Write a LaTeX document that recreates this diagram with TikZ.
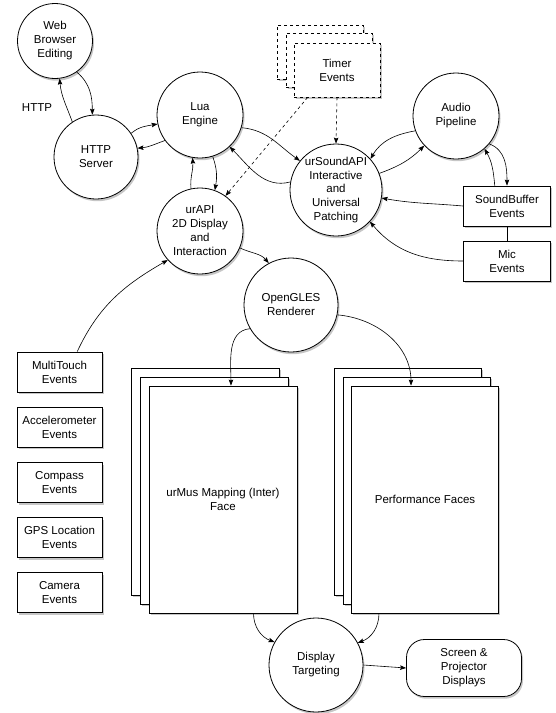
\documentclass[tikz,border=0pt]{standalone}
\usepackage{fontspec}
\setmainfont{Liberation Sans}
\usetikzlibrary{arrows.meta,positioning,calc,shadows}

\tikzset{
  box/.style={draw, fill=white, line width=0.8pt, align=center,
    font=\fontsize{11.5}{14}\selectfont,
    drop shadow={shadow xshift=1.5pt, shadow yshift=-2.2pt, opacity=0.45}},
  proc/.style={box, circle, inner sep=0pt},
  evt/.style={box, rectangle, minimum width=86pt, minimum height=40pt, inner sep=1pt},
  face/.style={box, rectangle, minimum width=148pt, minimum height=227pt, inner sep=1pt},
  conn/.style={->, line width=0.6pt},
}

\begin{document}
\begin{tikzpicture}[x=1pt, y=-1pt, >={Stealth[length=6pt, width=4.5pt, inset=1pt]}]
\useasboundingbox (0,0) rectangle (555,713);

% Processes (circles)
\node[proc, minimum size=75pt] (web) at (55,41) {Web\\Browser\\Editing};
\node[proc, minimum size=84pt] (http) at (96,157) {HTTP\\Server};
\node[proc, minimum size=86pt] (lua) at (200,115) {Lua\\Engine};
\node[proc, minimum size=86pt] (audio) at (456,116) {Audio\\Pipeline};
\node[proc, minimum size=92pt, font=\fontsize{11.5}{13.6}\selectfont] (sound) at (336,190) {urSoundAPI\\Interactive\\and\\Universal\\Patching};
\node[proc, minimum size=86pt] (urapi) at (200,231) {urAPI\\2D Display\\and\\Interaction};
\node[proc, minimum size=94pt] (gles) at (291,305) {OpenGLES\\Renderer};
\node[proc, minimum size=94pt] (disp) at (316,665) {Display\\Targeting};
\node[box, rounded corners=18pt, minimum width=115pt, minimum height=57pt] (screen) at (464,668) {Screen \&\\Projector\\Displays};

\node[font=\fontsize{11.5}{14}\selectfont] (httplbl) at (37,108) {HTTP};

% Timer stack (dashed)
\node[evt, dashed, minimum height=54pt] (timer3) at (320,52) {};
\node[evt, dashed, minimum height=54pt] (timer2) at (329,60) {};
\node[evt, dashed, minimum height=54pt] (timer) at (337,70) {Timer\\Events};

% Audio side events
\node[evt, minimum width=87pt] (sbuf) at (507,206) {SoundBuffer\\Events};
\node[evt, minimum width=87pt] (mic) at (507,261) {Mic\\Events};

% Input events (left column)
\node[evt, minimum width=85pt] (mtouch) at (59.5,372) {MultiTouch\\Events};
\node[evt, minimum width=85pt] (accel) at (59.5,427) {Accelerometer\\Events};
\node[evt, minimum width=85pt] (compass) at (59.5,482.5) {Compass\\Events};
\node[evt, minimum width=85pt] (gps) at (59.5,537.5) {GPS Location\\Events};
\node[evt, minimum width=85pt] (camera) at (59.5,592.5) {Camera\\Events};

% Face stacks
\node[face] (lf3) at (205,481.5) {};
\node[face] (lf2) at (214,490.5) {};
\node[face] (lf) at (223,499.5) {urMus Mapping (Inter)\\Face};
\node[face, minimum width=147pt] (rf3) at (407.5,481.5) {};
\node[face, minimum width=147pt] (rf2) at (416.5,490.5) {};
\node[face, minimum width=147pt] (rf) at (425,499.5) {Performance Faces};

% Web <-> HTTP
\draw[conn] (http.124) to[out=110, in=-85] (web.-83);
\draw[conn] (web.-55) to[out=-40, in=90] (http.95);
% HTTP <-> Lua
\draw[conn] (http.34) to[out=40, in=-170] (lua.-168);
\draw[conn] (lua.-144) to[out=-160, in=5] (http.12);
% Lua <-> urAPI
\draw[conn] (urapi.102) to[out=95, in=-85] (lua.-100);
\draw[conn] (lua.-73) to[out=-70, in=80] (urapi.70);
% Lua <-> urSoundAPI
\draw[conn] (lua.-17) to[out=-5, in=145] (sound.141);
\draw[conn] (sound.170) to[out=195, in=-45] (lua.-47);
% urSoundAPI <-> Audio
\draw[conn] (audio.200) to[out=190, in=60] (sound.42);
\draw[conn] (sound.21) to[out=20, in=-135] (audio.223);
% Audio <-> SoundBuffer
\draw[conn] (sbuf.121) to[out=95, in=-60] (audio.-49);
\draw[conn] (audio.-40) to[out=-20, in=90] (sbuf.north);
\draw[line width=0.6pt] (sbuf.south) -- (mic.north);
% events into urSoundAPI
\draw[conn] (sbuf.west) to[out=175, in=-10] (sound.-10);
\draw[conn] (mic.west) to[out=180, in=-50] (sound.-43);
% Timer
\draw[conn, dashed] (timer.south) -- (sound.north);
\draw[conn, dashed] (timer.-137) -- (urapi.54);
% urAPI -> OpenGLES, MultiTouch -> urAPI
\draw[conn] (urapi.-23) to[out=-25, in=130] (gles.118);
\draw[conn] (mtouch.49) to[out=65, in=210] (urapi.222);
% OpenGLES -> faces
\draw[conn] (gles.210) to[out=185, in=90] (lf.86);
\draw[conn] (gles.-12) to[out=-5, in=90] (rf.97);
% faces -> Display -> Screen
\draw[conn] (lf.-75) to[out=-90, in=160] (disp.151);
\draw[conn] (rf.-112) to[out=-90, in=20] (disp.28);
\draw[conn] (disp.east) -- (screen.west);
\end{tikzpicture}
\end{document}
